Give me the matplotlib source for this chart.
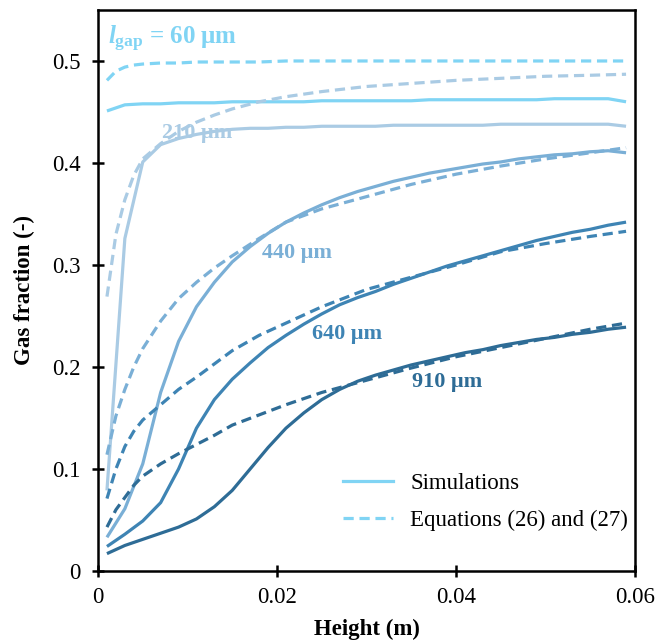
import matplotlib
matplotlib.use("Agg")
import matplotlib.pyplot as plt

plt.rcParams['font.family'] = ['Liberation Serif', 'DejaVu Serif']
plt.rcParams['mathtext.fontset'] = 'custom'
plt.rcParams['mathtext.it'] = 'Liberation Serif:italic:bold'
plt.rcParams['mathtext.bf'] = 'Liberation Serif:bold'
plt.rcParams['mathtext.rm'] = 'Liberation Serif:bold'

# ---- data ----
x_sim = [0.001, 0.003, 0.005, 0.007, 0.009, 0.011, 0.013, 0.015, 0.017, 0.019,
         0.021, 0.023, 0.025, 0.027, 0.029, 0.031, 0.033, 0.035, 0.037, 0.039,
         0.041, 0.043, 0.045, 0.047, 0.049, 0.051, 0.053, 0.055, 0.057, 0.059]
sim_60 = [0.451, 0.457, 0.458, 0.458, 0.459, 0.459, 0.459, 0.460, 0.460, 0.460,
          0.460, 0.460, 0.461, 0.461, 0.461, 0.461, 0.461, 0.461, 0.462, 0.462,
          0.462, 0.462, 0.462, 0.462, 0.462, 0.463, 0.463, 0.463, 0.463, 0.460]
sim_210 = [0.079, 0.326, 0.401, 0.418, 0.424, 0.428, 0.431, 0.433, 0.434, 0.434,
           0.435, 0.435, 0.436, 0.436, 0.436, 0.436, 0.437, 0.437, 0.437, 0.437,
           0.437, 0.437, 0.438, 0.438, 0.438, 0.438, 0.438, 0.438, 0.438, 0.436]
sim_440 = [0.033, 0.061, 0.105, 0.175, 0.225, 0.259, 0.283, 0.303, 0.318, 0.331,
           0.342, 0.351, 0.359, 0.366, 0.372, 0.377, 0.382, 0.386, 0.390, 0.393,
           0.396, 0.399, 0.401, 0.404, 0.406, 0.408, 0.409, 0.411, 0.412, 0.410]
sim_640 = [0.024, 0.036, 0.049, 0.067, 0.100, 0.140, 0.168, 0.188, 0.204, 0.219,
           0.231, 0.242, 0.252, 0.261, 0.268, 0.274, 0.281, 0.287, 0.293, 0.299,
           0.304, 0.309, 0.314, 0.319, 0.324, 0.328, 0.332, 0.335, 0.339, 0.342]
sim_910 = [0.017, 0.025, 0.031, 0.037, 0.043, 0.051, 0.063, 0.079, 0.100, 0.121,
           0.140, 0.155, 0.168, 0.178, 0.186, 0.192, 0.197, 0.202, 0.206, 0.210,
           0.214, 0.217, 0.221, 0.224, 0.227, 0.229, 0.232, 0.234, 0.237, 0.239]

x_eq = [0.001, 0.002, 0.003, 0.004, 0.005, 0.007, 0.009, 0.011, 0.013, 0.015,
        0.018, 0.021, 0.025, 0.030, 0.035, 0.040, 0.045, 0.050, 0.055, 0.059]
eq_60 = [0.481, 0.490, 0.494, 0.496, 0.497, 0.498, 0.498, 0.499, 0.499, 0.499,
         0.499, 0.500, 0.500, 0.500, 0.500, 0.500, 0.500, 0.500, 0.500, 0.500]
eq_210 = [0.269, 0.330, 0.364, 0.388, 0.404, 0.419, 0.431, 0.440, 0.447, 0.453,
          0.460, 0.465, 0.470, 0.475, 0.478, 0.481, 0.483, 0.485, 0.486, 0.487]
eq_440 = [0.114, 0.152, 0.178, 0.200, 0.218, 0.245, 0.267, 0.283, 0.297, 0.309,
          0.326, 0.342, 0.355, 0.367, 0.379, 0.389, 0.397, 0.404, 0.410, 0.415]
eq_640 = [0.071, 0.100, 0.122, 0.137, 0.148, 0.163, 0.178, 0.190, 0.203, 0.216,
          0.231, 0.243, 0.259, 0.276, 0.288, 0.300, 0.313, 0.321, 0.328, 0.333]
eq_910 = [0.043, 0.060, 0.072, 0.084, 0.093, 0.105, 0.115, 0.124, 0.133, 0.143,
          0.153, 0.163, 0.175, 0.187, 0.199, 0.210, 0.219, 0.228, 0.237, 0.243]

gap_labels = ['60 μm', '210 μm', '440 μm', '640 μm', '910 μm']
colors = ['#80d4f4', '#aacbe4', '#7aafd6', '#3e84b4', '#2e6c96']

sims = [sim_60, sim_210, sim_440, sim_640, sim_910]
eqs = [eq_60, eq_210, eq_440, eq_640, eq_910]

fig = plt.figure(figsize=(6.56, 6.44), dpi=100)
ax = fig.add_axes([0.1494, 0.1134, 0.8186, 0.8711])

lw = 2.3
dash = (0, (3.2, 1.8))
for s, e, c in zip(sims, eqs, colors):
    ax.plot(x_sim, s, color=c, lw=lw, solid_capstyle='butt')
    ax.plot(x_eq, e, color=c, lw=lw, linestyle=dash)

# legend entries
h1, = ax.plot([], [], color=colors[0], lw=lw)
h2, = ax.plot([], [], color=colors[0], lw=lw, linestyle=dash)
ax.legend([h1, h2], ['Simulations', 'Equations (26) and (27)'],
          loc='lower right', frameon=False, fontsize=16.5,
          handlelength=2.2, handletextpad=0.75, labelspacing=0.65,
          borderpad=0, borderaxespad=0, bbox_to_anchor=(0.987, 0.072))

# annotations
ax.text(0.0011, 0.522, r'$\mathit{l}_{\mathbf{gap}}$ = ' + gap_labels[0],
        color=colors[0], fontsize=18, fontweight='bold', va='center', ha='left')
label_pos = [(0.0072, 0.429), (0.0183, 0.312), (0.0239, 0.232), (0.0351, 0.185)]
for (lx, ly), t, c in zip(label_pos, gap_labels[1:], colors[1:]):
    ax.text(lx, ly, t, color=c, fontsize=16, fontweight='bold',
            va='center', ha='left')

ax.set_xlim(0, 0.06)
ax.set_ylim(0, 0.55)
ax.set_xticks([0, 0.02, 0.04, 0.06])
ax.set_xticklabels(['0', '0.02', '0.04', '0.06'])
ax.set_yticks([0, 0.1, 0.2, 0.3, 0.4, 0.5])
ax.set_yticklabels(['0', '0.1', '0.2', '0.3', '0.4', '0.5'])
ax.tick_params(direction='inout', length=9, width=1.8, labelsize=16.5)
ax.tick_params(axis='y', pad=8)
ax.tick_params(axis='x', pad=7)
for sp in ax.spines.values():
    sp.set_linewidth(1.8)
ax.set_xlabel('Height (m)', fontsize=16.5, fontweight='bold', labelpad=8)
ax.set_ylabel('Gas fraction (-)', fontsize=16.5, fontweight='bold', labelpad=12)

fig.savefig('out.png', dpi=100)
